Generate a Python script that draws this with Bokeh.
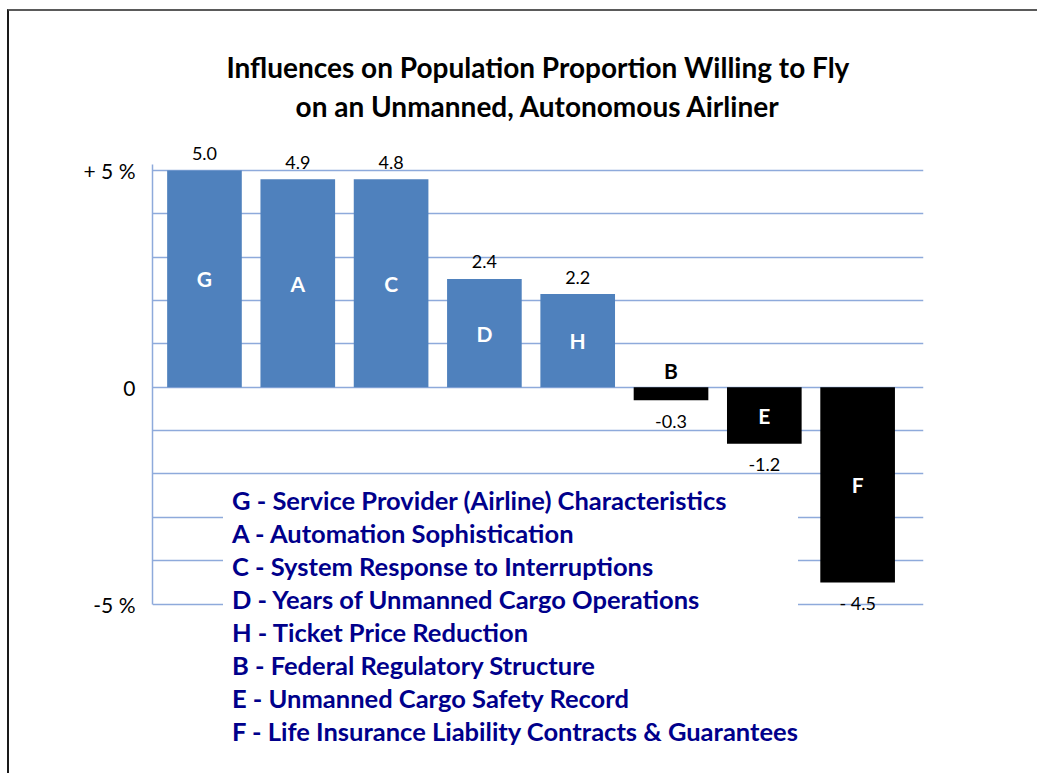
from bokeh.plotting import figure
from bokeh.models import Range1d, FixedTicker, Title, Legend, LegendItem, ColumnDataSource
from bokeh.core.properties import value
from bokeh.embed import file_html
from bokeh.resources import INLINE

# ---------------- data ----------------
codes = ["G", "A", "C", "D", "H", "B", "E", "F"]
bar_values = [5.0, 4.8, 4.8, 2.5, 2.15, -0.3, -1.3, -4.5]
value_labels = ["5.0", "4.9", "4.8", "2.4", "2.2", "-0.3", "-1.2", "- 4.5"]
descriptions = [
    "G - Service Provider (Airline) Characteristics",
    "A - Automation Sophistication",
    "C - System Response to Interruptions",
    "D - Years of Unmanned Cargo Operations",
    "H - Ticket Price Reduction",
    "B - Federal Regulatory Structure",
    "E - Unmanned Cargo Safety Record",
    "F - Life Insurance Liability Contracts & Guarantees",
]
y_ticks = [-5, 0, 5]
y_tick_labels = ["-5 %", "0", "+ 5 %"]
grid_ticks = [-5, -4, -3, -2, -1, 0, 1, 2, 3, 4, 5]
title_lines = [
    "Influences on Population Proportion Willing to Fly",
    "on an Unmanned, Autonomous Airliner",
]

# ---------------- styling ----------------
POS_COLOR = "#4F81BD"
NEG_COLOR = "#000000"
GRID_COLOR = "#8EAADB"
FONT = "Lato"

xs = list(range(len(codes)))
bar_colors = [POS_COLOR if v >= 0 else NEG_COLOR for v in bar_values]
val_offsets = [-17 if v >= 0 else 21 for v in bar_values]
small = [abs(v) < 0.5 for v in bar_values]
letter_y = [0 if s else v / 2 for v, s in zip(bar_values, small)]
letter_offsets = [-17 if s else 0 for s in small]
letter_colors = ["black" if s else "white" for s in small]

src = ColumnDataSource(dict(
    x=xs, top=bar_values, color=bar_colors, vlabel=value_labels, voff=val_offsets,
    code=codes, ly=letter_y, loff=letter_offsets, lcolor=letter_colors,
))

W, H = 1030, 764
p = figure(
    width=W, height=H, output_backend="svg", toolbar_location=None,
    x_range=Range1d(-0.557, 7.706), y_range=Range1d(-8.47, 5.6),
    min_border_left=143, min_border_right=116, min_border_top=133, min_border_bottom=21,
    title=None,
)
p.styles = {"margin-left": "7px", "margin-top": "9px",
            "border-top": "2px solid #5a5a5a", "border-left": "2px solid #1a1a1a"}
p.outline_line_color = None
p.background_fill_color = "white"
p.border_fill_color = "white"

p.xaxis.visible = False
p.xgrid.visible = False

p.yaxis.ticker = FixedTicker(ticks=y_ticks)
p.yaxis.bounds = (y_ticks[0], 5.15)
p.yaxis.major_label_overrides = {t: l for t, l in zip(y_ticks, y_tick_labels)}
p.yaxis.axis_line_color = GRID_COLOR
p.yaxis.axis_line_width = 1.5
p.yaxis.major_tick_line_color = None
p.yaxis.minor_tick_line_color = None
p.yaxis.major_label_standoff = 11
p.yaxis.major_label_text_font = FONT
p.yaxis.major_label_text_font_size = "21px"
p.yaxis.major_label_text_color = "black"

p.ygrid.ticker = FixedTicker(ticks=grid_ticks)
p.ygrid.grid_line_color = GRID_COLOR
p.ygrid.grid_line_width = 1.3

bars = p.vbar(x="x", top="top", bottom=0, width=0.8, source=src,
              fill_color="color", line_color=None)
ghost = p.vbar(x="x", top="top", bottom=0, width=0.8, source=src,
               fill_alpha=0, line_alpha=0)

p.text(x="x", y="top", text="vlabel", y_offset="voff", source=src,
       text_align="center", text_baseline="middle", text_color="black",
       text_font=value(FONT), text_font_size="18px")
p.text(x="x", y="ly", text="code", y_offset="loff", source=src,
       text_align="center", text_baseline="middle", text_color="lcolor",
       text_font=value(FONT), text_font_style="bold", text_font_size="21px")

# title: nearest line added first
p.add_layout(Title(text=title_lines[1], align="center", offset=-10, standoff=44,
                   text_font=FONT, text_font_style="bold", text_font_size="28px",
                   text_color="black"), "above")
p.add_layout(Title(text=title_lines[0], align="center", offset=-10, standoff=-38,
                   text_font=FONT, text_font_style="bold", text_font_size="28px",
                   text_color="black"), "above")

legend = Legend(
    items=[LegendItem(label=d, renderers=[ghost], index=i) for i, d in enumerate(descriptions)],
    location=(71, 8), orientation="vertical",
    glyph_width=1, glyph_height=20, label_standoff=8, padding=3, spacing=2,
    label_height=31, margin=0,
    label_text_font=FONT, label_text_font_style="bold", label_text_font_size="25.5px",
    label_text_color="#00008B",
    background_fill_color="white", background_fill_alpha=1.0, border_line_color=None,
    inactive_fill_alpha=0,
)
p.add_layout(legend, "center")

open("out.html", "w").write(file_html(p, INLINE))
